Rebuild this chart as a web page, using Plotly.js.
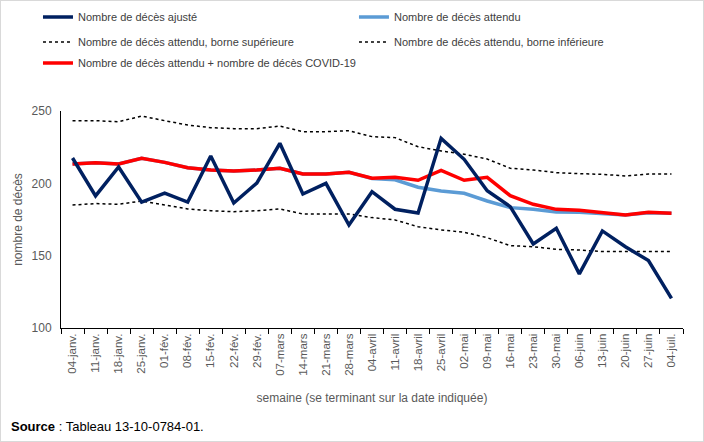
<!DOCTYPE html>
<html><head><meta charset="utf-8">
<script src="https://cdn.plot.ly/plotly-3.0.1.min.js"></script>
<style>body{margin:0;padding:0;background:#fff}#wrap{position:relative;width:704px;height:442px}#frame{position:absolute;left:0;top:0;width:702px;height:440px;border:1px solid #d9d9d9;pointer-events:none}</style>
</head><body><div id="wrap"><div id="chart" style="width:704px;height:442px"></div><div id="frame"></div></div>
<script>
const weeks = ["04-janv.","11-janv.","18-janv.","25-janv.","01-fév.","08-fév.","15-fév.","22-fév.","29-fév.","07-mars","14-mars","21-mars","28-mars","04-avril","11-avril","18-avril","25-avril","02-mai","09-mai","16-mai","23-mai","30-mai","06-juin","13-juin","20-juin","27-juin","04-juil."];
const ajuste = [217.5,191.3,211.3,187,193.3,187,218.9,186.4,200.2,227.7,192.6,200,171.2,194.2,182.1,179.5,231.1,216.6,194.9,183.9,158.1,168.9,137.4,167.1,156.2,146.6,120.5];
const attendu = [213.4,214.3,213.4,217.3,214.5,210.8,209.2,208.5,209.2,210.4,206.5,206.5,207.6,203.3,202.5,197.3,194.7,193.1,187.8,183.2,182.1,180.2,180,179.3,178.1,179.7,179.3];
const borneSup = [243.3,243.3,242.6,246.5,243.3,240.3,238.5,237.8,237.8,239.6,235.7,235.7,236.4,232.3,231.6,225.3,222.4,220.1,216.8,210.4,209.2,207.4,206.7,206.2,205.1,206.5,206.5];
const borneInf = [185,186,185.5,187.8,185,182.3,181.1,180.4,181.1,182.3,178.8,178.8,178.8,176.3,174.7,170,167.8,166.2,162.4,156.9,156.2,154.4,153.9,152.8,152.8,152.8,152.8];
const attenduCovid = [213.4,214.3,213.4,217.3,214.5,210.8,209.2,208.5,209.2,210.4,206.5,206.5,207.6,203.5,204.2,202.1,209,202.1,204.2,191.5,185.5,182,181.4,180,178.1,180,179.3];

const FONT = "Liberation Sans, Arial, sans-serif";
const traces = [
 {x:weeks,y:borneSup,name:"Nombre de décès attendu, borne supérieure",mode:"lines",line:{color:"#000",width:1.5,dash:"dot"},legend:"legend3"},
 {x:weeks,y:borneInf,name:"Nombre de décès attendu, borne inférieure",mode:"lines",line:{color:"#000",width:1.5,dash:"dot"},legend:"legend4"},
 {x:weeks,y:attendu,name:"Nombre de décès attendu",mode:"lines",line:{color:"#5B9BD5",width:3.5},legend:"legend2"},
 {x:weeks,y:attenduCovid,name:"Nombre de décès attendu + nombre de décès COVID-19",mode:"lines",line:{color:"#FF0000",width:3.5},legend:"legend5"},
 {x:weeks,y:ajuste,name:"Nombre de décès ajusté",mode:"lines",line:{color:"#002060",width:3.5},legend:"legend"}
];
const legBase = {orientation:"h",font:{family:FONT,size:11,color:"#404040"},bgcolor:"rgba(0,0,0,0)",xanchor:"left",yanchor:"middle"};
const L = (x,y)=>Object.assign({},legBase,{x:x,y:y});
const c1 = -0.037, c2 = 0.471;
const layout = {
 width:704,height:442,
 margin:{l:61,r:21,t:111,b:114,autoexpand:false},
 paper_bgcolor:"#fff",plot_bgcolor:"#fff",
 font:{family:FONT,color:"#595959"},
 xaxis:{type:"category",range:[-0.5,26.5],showgrid:false,zeroline:false,showline:true,linecolor:"#000",linewidth:1,
  ticks:"outside",tickson:"boundaries",ticklen:5,tickcolor:"#000",tickangle:-90,tickfont:{family:FONT,size:11.5,color:"#595959"},
  title:{text:"semaine (se terminant sur la date indiquée)",font:{family:FONT,size:12,color:"#595959"},standoff:18}},
 yaxis:{range:[100,250],dtick:50,showgrid:false,zeroline:false,showline:true,linecolor:"#000",linewidth:1,ticks:"",ticklabelstandoff:6,
  tickfont:{family:FONT,size:12,color:"#595959"},
  title:{text:"nombre de décès",font:{family:FONT,size:12,color:"#595959"},standoff:6}},
 showlegend:true,
 legend:L(c1,1.433), legend2:L(c2,1.433),
 legend3:L(c1,1.318), legend4:L(c2,1.318),
 legend5:L(c1,1.221),
 annotations:[{xref:"paper",yref:"paper",x:-0.083,y:-0.456,xanchor:"left",yanchor:"middle",showarrow:false,
  text:"<b>Source</b> : Tableau 13-10-0784-01.",font:{family:FONT,size:13,color:"#000"}}]
};
Plotly.newPlot("chart",traces,layout,{displayModeBar:false,staticPlot:true});
</script></body></html>
